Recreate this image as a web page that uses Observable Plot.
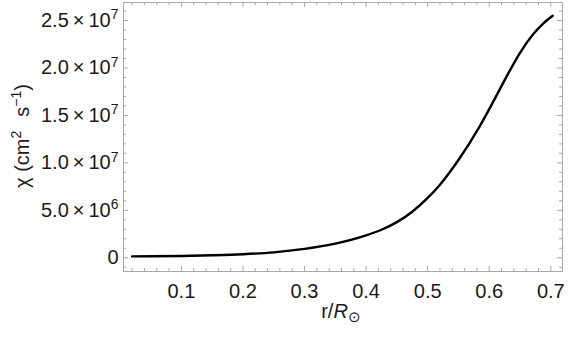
<!DOCTYPE html>
<html><head><meta charset="utf-8">
<script src="https://cdn.jsdelivr.net/npm/d3@7"></script>
<script src="https://cdn.jsdelivr.net/npm/@observablehq/plot@0.6"></script>
<style>body{margin:0;background:#fff} svg{display:block}</style>
</head><body><div id="chart"></div>
<script>
// Data
const radius = [0.02, 0.05, 0.10, 0.15, 0.20, 0.25, 0.30, 0.35, 0.40, 0.425, 0.45, 0.475, 0.50, 0.52, 0.55, 0.585, 0.607, 0.629, 0.65, 0.672, 0.688, 0.703];
const chi = [0.14e6, 0.15e6, 0.19e6, 0.26e6, 0.37e6, 0.57e6, 0.93e6, 1.48e6, 2.35e6, 2.95e6, 3.75e6, 4.85e6, 6.3e6, 7.7e6, 10.3e6, 13.9e6, 16.5e6, 19.2e6, 21.6e6, 23.6e6, 24.7e6, 25.5e6];
const xTicks = [0.1, 0.2, 0.3, 0.4, 0.5, 0.6, 0.7];
const xTickLabels = ["0.1", "0.2", "0.3", "0.4", "0.5", "0.6", "0.7"];
const yTicks = [0, 5e6, 1e7, 1.5e7, 2e7, 2.5e7];
const yTickLabels = ["0", "5.0\u2009×\u200910^6", "1.0\u2009×\u200910^7", "1.5\u2009×\u200910^7", "2.0\u2009×\u200910^7", "2.5\u2009×\u200910^7"];
const xLabel = "r/R⊙";
const yLabel = "χ (cm² s⁻¹)";

const W = 568, H = 337, mL = 123, mR = 6, mT = 2, mB = 66;
const xDomain = [0.006, 0.719];
const yDomain = [-1.45e6, 2.69e7];
const yPerPx = (yDomain[1] - yDomain[0]) / (H - mT - mB);
const xPerPx = (xDomain[1] - xDomain[0]) / (W - mL - mR);
const xMinor = d3.range(1, 36).filter(i => i % 5 !== 0).map(i => i / 50);
const yMinor = d3.range(-1, 27).filter(i => i % 5 !== 0).map(i => i * 1e6);

const table = radius.map((r, i) => ({r, chi: chi[i]}));
const frameColor = "#a8a8a8";
const majLen = 5, minLen = 3;

const tickMarks = [
  // bottom
  Plot.ruleX(xTicks, {x: d => d, y1: yDomain[0], y2: yDomain[0] + majLen * yPerPx, stroke: frameColor}),
  Plot.ruleX(xMinor, {x: d => d, y1: yDomain[0], y2: yDomain[0] + minLen * yPerPx, stroke: frameColor}),
  // top
  Plot.ruleX(xTicks, {x: d => d, y1: yDomain[1], y2: yDomain[1] - majLen * yPerPx, stroke: frameColor}),
  Plot.ruleX(xMinor, {x: d => d, y1: yDomain[1], y2: yDomain[1] - minLen * yPerPx, stroke: frameColor}),
  // left
  Plot.ruleY(yTicks, {y: d => d, x1: xDomain[0], x2: xDomain[0] + majLen * xPerPx, stroke: frameColor}),
  Plot.ruleY(yMinor, {y: d => d, x1: xDomain[0], x2: xDomain[0] + minLen * xPerPx, stroke: frameColor}),
  // right
  Plot.ruleY(yTicks, {y: d => d, x1: xDomain[1], x2: xDomain[1] - majLen * xPerPx, stroke: frameColor}),
  Plot.ruleY(yMinor, {y: d => d, x1: xDomain[1], x2: xDomain[1] - minLen * xPerPx, stroke: frameColor})
];

const svg = Plot.plot({
  width: W, height: H,
  marginLeft: mL, marginRight: mR, marginTop: mT, marginBottom: mB,
  style: {fontFamily: "'Liberation Sans', Arial, sans-serif", fontSize: "20px", color: "#1a1a1a", background: "#fff"},
  x: {domain: xDomain, ticks: xTicks, tickSize: 0, tickPadding: 12, tickFormat: d => xTickLabels[xTicks.indexOf(d)], label: null},
  y: {domain: yDomain, ticks: yTicks, tickSize: 0, tickPadding: 5, tickFormat: d => yTickLabels[yTicks.indexOf(d)], label: null},
  marks: [
    Plot.frame({stroke: frameColor}),
    ...tickMarks,
    Plot.line(table, {x: "r", y: "chi", stroke: "#000", strokeWidth: 2.4, curve: "monotone-x"}),
    Plot.text([xLabel], {text: d => d, frameAnchor: "bottom", textAnchor: "middle", lineAnchor: "bottom", dx: -2, dy: 46, fontSize: 20, fill: "#1a1a1a"}),
    Plot.text([yLabel], {text: d => d, frameAnchor: "left", textAnchor: "middle", lineAnchor: "bottom", rotate: -90, dx: -95, dy: -1, fontSize: 20, fill: "#1a1a1a"})
  ]
});
document.getElementById("chart").appendChild(svg);

// Typeset superscripts / subscripts as real text spans
d3.select(svg).selectAll("text").each(function () {
  const t = this.textContent;
  const sel = d3.select(this);
  if (t.includes("^")) {
    const [m, e] = t.split("^");
    sel.text(null);
    sel.append("tspan").text(m);
    sel.append("tspan").attr("font-size", "14px").attr("dy", "-0.55em").text(e);
  } else if (t === xLabel) {
    sel.text(null);
    sel.append("tspan").text("r/");
    sel.append("tspan").attr("font-style", "italic").text("R");
    sel.append("tspan").attr("font-size", "15px").attr("dy", "0.3em").text("⊙");
  } else if (t === yLabel) {
    sel.text(null);
    sel.append("tspan").text("χ (cm");
    sel.append("tspan").attr("font-size", "14px").attr("dy", "-0.55em").text("2");
    sel.append("tspan").attr("dy", "0.385em").text("\u2002\u2009s");
    sel.append("tspan").attr("font-size", "14px").attr("dy", "-0.55em").text("−1");
    sel.append("tspan").attr("dy", "0.385em").text(")");
  }
});
</script>
</body></html>
